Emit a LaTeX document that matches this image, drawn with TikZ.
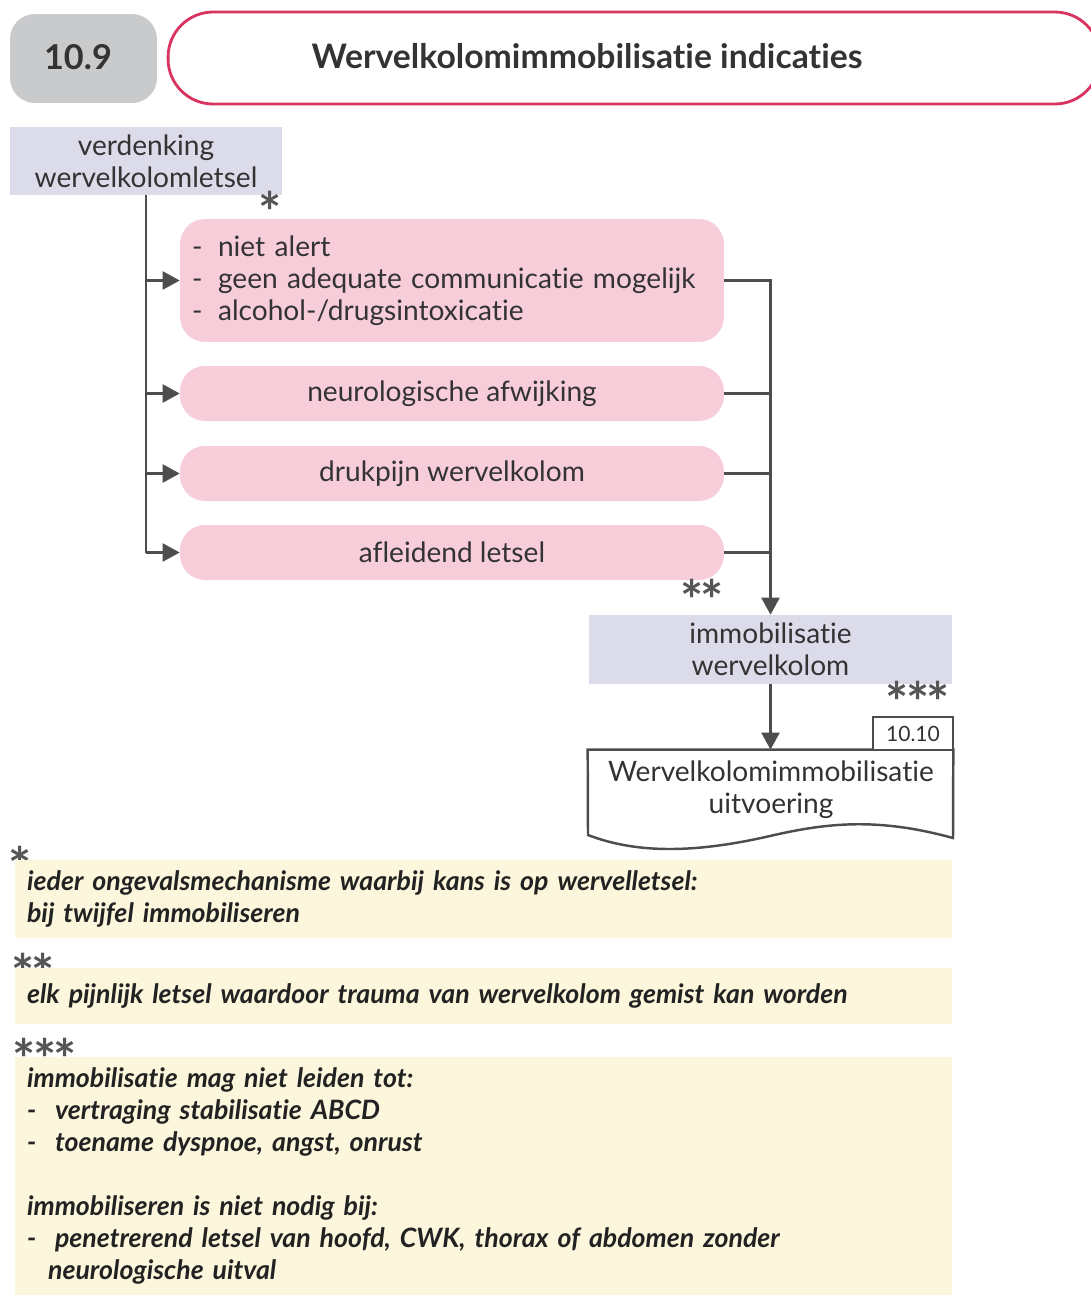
\documentclass[tikz,border=0pt]{standalone}
\usepackage{fontspec}
\setmainfont{Lato}[Ligatures=NoCommon]
\newfontfamily\notefont{Lato}[Ligatures=NoCommon]
\usetikzlibrary{positioning, calc, arrows.meta}

\definecolor{linegray}{HTML}{4D4D4D}
\definecolor{txtgray}{HTML}{333333}
\definecolor{notetxt}{HTML}{222222}
\definecolor{stargray}{HTML}{555555}
\definecolor{numgray}{HTML}{C9CACC}
\definecolor{titlered}{HTML}{D8345F}
\definecolor{lavender}{HTML}{DCDBEA}
\definecolor{pinkfill}{HTML}{F6CDD8}
\definecolor{notefill}{HTML}{FCF6DC}

\newcommand{\bodyfont}{\fontsize{16}{18.2}\selectfont}
% asterisk marks, boxed tightly round the glyphs
\newcommand{\starmark}[1]{\raisebox{-0.42em}[0.35em][0pt]{#1}}

\tikzset{
  numbox/.style={fill=numgray, rounded corners=0.5cm, minimum width=2.94cm, minimum height=1.78cm},
  numtext/.style={text=txtgray, font=\bfseries\fontsize{19.5}{22}\selectfont},
  titlebox/.style={draw=titlered, line width=1.6pt, rounded corners=0.9cm, minimum width=18.64cm, minimum height=1.84cm},
  titletext/.style={text=txtgray, font=\bfseries\fontsize{19.2}{22}\selectfont},
  lavbox/.style={fill=lavender, text=txtgray, align=center, inner sep=0pt},
  pinkbox/.style={fill=pinkfill, rounded corners=0.5cm, minimum width=10.88cm, minimum height=1.1cm, text=txtgray, inner sep=0pt},
  docbox/.style={minimum width=7.3cm, minimum height=1.8cm, inner sep=0pt},
  docline/.style={draw=linegray, line width=1.4pt, fill=white},
  tabbox/.style={draw=linegray, line width=1.4pt, fill=white, minimum width=1.6cm, minimum height=0.66cm, inner sep=0pt, text=txtgray, font=\fontsize{12}{14}\selectfont},
  notebox/.style={fill=notefill, text=notetxt, minimum width=18.74cm, text width=18.26cm, align=left, inner xsep=0.24cm, font=\fontsize{15.2}{18.2}\notefont\bfseries\itshape},
  conn/.style={draw=linegray, line width=1.3pt},
  arr/.style={conn, -{Triangle[length=3.4mm,width=3.6mm]}},
  stars/.style={text=stargray, inner sep=0pt, font=\bfseries\fontsize{31}{31}\selectfont}
}

\begin{document}
\begin{tikzpicture}[x=0.02cm, y=-0.02cm, font=\bodyfont]
  \useasboundingbox (0,0) rectangle (1091,1295);

  % Header: chapter number and title
  \node[numbox] (num) at (83.5,58.5) {};
  \node[numtext] (numtext) at (78,57) {10.9};
  \node[titlebox] (title) at (634,58) {};
  \node[titletext] (titletext) at (587,56) {Wervelkolomimmobilisatie indicaties};

  % Start box
  \node[lavbox, minimum width=5.44cm, minimum height=1.36cm] (verd) at (146,161) {verdenking\\wervelkolomletsel};
  \node[stars] (ast1) at (270,200) {\starmark{*}};

  % Criteria
  \node[pinkbox, minimum height=2.46cm, text width=10.4cm, align=left] (crit1) at (452,280.5)
    {\makebox[0.52cm][l]{-}niet alert\\
     \makebox[0.52cm][l]{-}geen adequate communicatie mogelijk\\
     \makebox[0.52cm][l]{-}alcohol-/drugsintoxicatie};
  \node[pinkbox] (crit2) at (452,393.5) {neurologische afwijking};
  \node[pinkbox] (crit3) at (452,473.5) {drukpijn wervelkolom};
  \node[pinkbox] (crit4) at (452,552.5) {afleidend letsel};
  \node[stars] (ast2) at (702,588) {\starmark{*\kern-1.5pt*}};

  % Immobilisation and follow-up protocol
  \node[lavbox, minimum width=7.26cm, minimum height=1.38cm] (immob) at (770.5,649.5) {immobilisatie\\wervelkolom};
  \node[stars] (ast3) at (918,690) {\starmark{*\kern-1.5pt*\kern-1.5pt*}};
  \node[docbox] (doc) at (770.5,795) {};
  \draw[docline] (doc.north west) -- (doc.north east) -- (953,838)
    .. controls (880,818) and (830,822) .. (770,836)
    .. controls (700,852) and (640,855) .. (588,835) -- cycle;
  \node[tabbox] (ref) at (913,733.5) {10.10};
  \node[text=txtgray, align=center] (doctext) at (771,790) {Wervelkolomimmobilisatie\\uitvoering};

  % Connectors left
  \draw[conn] (verd.south) -- (verd.south |- crit4.west);
  \foreach \n in {crit1,crit2,crit3,crit4}
    \draw[arr] (verd.south |- \n.west) -- (\n.west);

  % Connectors right
  \foreach \n in {crit2,crit3,crit4}
    \draw[conn] (\n.east) -- (\n.east -| immob.north);
  \draw[arr] (crit1.east) -| (immob.north);
  \draw[arr] (immob.south) -- (doc.north);

  % Footnotes
  \node[stars] (fn1) at (20,855) {\starmark{*}};
  \node[notebox, minimum height=1.56cm] (note1) at (483.5,899)
    {ieder ongevalsmechanisme waarbij kans is op wervelletsel:\\bij twijfel immobiliseren};
  \node[stars] (fn2) at (33,962) {\starmark{*\kern-1.5pt*}};
  \node[notebox, minimum height=1.12cm] (note2) at (483.5,996)
    {elk pijnlijk letsel waardoor trauma van wervelkolom gemist kan worden};
  \node[stars] (fn3) at (45,1047) {\starmark{*\kern-1.5pt*\kern-1.5pt*}};
  \node[notebox, minimum height=4.76cm] (note3) at (483.5,1176)
    {immobilisatie mag niet leiden tot:\\
     \makebox[0.56cm][l]{-}vertraging stabilisatie ABCD\\
     \makebox[0.56cm][l]{-}toename dyspnoe, angst, onrust\\[\baselineskip]
     immobiliseren is niet nodig bij:\\
     \makebox[0.56cm][l]{-}penetrerend letsel van hoofd, CWK, thorax of abdomen zonder\\
     \hspace*{0.42cm}neurologische uitval};
\end{tikzpicture}
\end{document}
